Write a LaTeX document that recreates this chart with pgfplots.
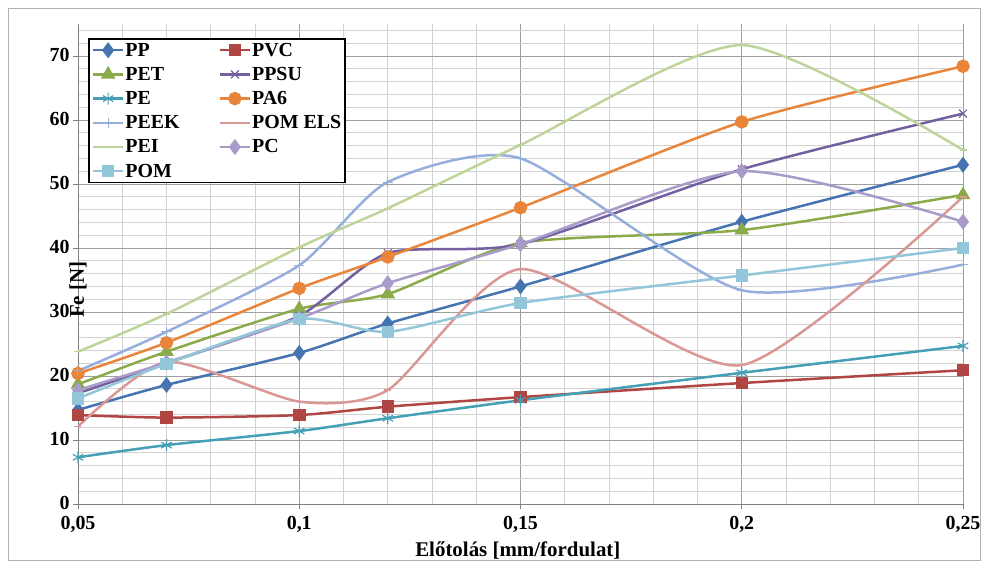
\documentclass[border=0pt]{standalone}
\usepackage{fontspec}
\setmainfont{Liberation Serif}
\usepackage{pgfplots}
\pgfplotsset{compat=1.18}
\definecolor{cPP}{HTML}{4674B0}
\definecolor{cPVC}{HTML}{B04643}
\definecolor{cPET}{HTML}{8BAA4A}
\definecolor{cPPSU}{HTML}{7460A0}
\definecolor{cPE}{HTML}{45A0B5}
\definecolor{cPA}{HTML}{E8853A}
\definecolor{cPEEK}{HTML}{95AEDC}
\definecolor{cELS}{HTML}{D99795}
\definecolor{cPEI}{HTML}{BDD59A}
\definecolor{cPC}{HTML}{A99BC9}
\definecolor{cPOM}{HTML}{93C6D8}
\begin{document}
\begin{tikzpicture}
\useasboundingbox (-78bp,-63bp) rectangle (907bp,504bp);
\draw[gray!60, line width=0.8bp] (-70bp,-56bp) rectangle (902bp,496bp);
\begin{axis}[
  at={(0,0)}, anchor=south west,
  scale only axis, width=885bp, height=480bp,
  xmin=0.05, xmax=0.25, ymin=0, ymax=75,
  axis lines=left, axis line style={gray, -, line width=0.8bp},
  xtick={0.05,0.1,0.15,0.2,0.25},
  xticklabels={{0,05},{0,1},{0,15},{0,2},{0,25}},
  ytick={0,10,20,30,40,50,60,70},
  yticklabels={0,10,20,30,40,50,60,70},
  minor xtick={0.06,0.07,0.08,0.09,0.11,0.12,0.13,0.14,0.16,0.17,0.18,0.19,0.21,0.22,0.23,0.24},
  minor ytick={2,4,6,8,12,14,16,18,22,24,26,28,32,34,36,38,42,44,46,48,52,54,56,58,62,64,66,68,72,74},
  grid=both,
  major grid style={gray!75, line width=0.6bp},
  minor grid style={gray!35, line width=0.6bp},
  tick align=outside, major tick length=5bp, minor tick length=0pt,
  tick style={gray, line width=0.6bp},
  ticklabel style={font=\fontsize{20}{20}\selectfont\bfseries},
  xticklabel style={yshift=-4bp},
  yticklabel style={yshift=1bp},
  xlabel={Előtolás [mm/fordulat]}, ylabel={Fe [N]},
  label style={font=\fontsize{21}{21}\selectfont\bfseries},
  xlabel style={at={(axis description cs:0.497,0)}, anchor=center, yshift=-47bp},
  ylabel style={at={(axis description cs:0,0.54)}, anchor=center, xshift=-45bp},
  every axis plot/.append style={line width=2.5bp, smooth, tension=0.4},
  legend columns=2,
  legend style={at={(10bp,466bp)}, anchor=north west, draw=black, line width=1.8bp,
    font=\fontsize{20}{20}\selectfont\bfseries, fill=white,
    inner xsep=3bp, inner ysep=3bp, row sep=7.5bp,
    nodes={inner sep=1bp},
    /tikz/every even column/.append style={column sep=38bp}},
  legend cell align=left,
  legend image code/.code={\draw[mark repeat=2,mark phase=2,#1] plot coordinates {(0bp,0bp) (15bp,0bp) (30bp,0bp)};},
]
\addplot[cPP, mark=diamond*, mark size=6bp] coordinates {(0.05,14.7)(0.07,18.6)(0.1,23.6)(0.12,28.2)(0.15,34.0)(0.2,44.1)(0.25,53.0)};
\addlegendentry{PP}
\addplot[cPVC, mark=square*, mark size=5bp] coordinates {(0.05,13.9)(0.07,13.5)(0.1,13.9)(0.12,15.2)(0.15,16.7)(0.2,18.9)(0.25,20.9)};
\addlegendentry{PVC}
\addplot[cPET, mark=triangle*, mark size=6bp] coordinates {(0.05,18.7)(0.07,23.8)(0.1,30.5)(0.12,32.8)(0.15,40.8)(0.2,42.8)(0.25,48.3)};
\addlegendentry{PET}
\addplot[cPPSU, mark=x, mark size=5.5bp, mark options={line width=1.2bp}] coordinates {(0.05,17.3)(0.07,22.0)(0.1,29.4)(0.12,39.2)(0.15,40.6)(0.2,52.3)(0.25,61.0)};
\addlegendentry{PPSU}
\addplot[cPE, mark=asterisk, mark size=6bp, mark options={line width=1.2bp}] coordinates {(0.05,7.3)(0.07,9.2)(0.1,11.4)(0.12,13.4)(0.15,16.2)(0.2,20.5)(0.25,24.7)};
\addlegendentry{PE}
\addplot[cPA, mark=*, mark size=5.5bp] coordinates {(0.05,20.4)(0.07,25.2)(0.1,33.7)(0.12,38.6)(0.15,46.3)(0.2,59.7)(0.25,68.4)};
\addlegendentry{PA6}
\addplot[cPEEK, mark=+, mark size=5bp, mark options={line width=1bp}] coordinates {(0.05,20.8)(0.07,26.9)(0.1,37.3)(0.12,50.3)(0.15,54.0)(0.2,33.4)(0.25,37.4)};
\addlegendentry{PEEK}
\addplot[cELS, mark=-, mark size=3.5bp, mark options={line width=1.5bp}] coordinates {(0.05,12.1)(0.07,22.2)(0.1,16.0)(0.12,17.8)(0.15,36.7)(0.2,21.7)(0.25,48.0)};
\addlegendentry{POM ELS}
\addplot[cPEI, mark=-, mark size=3.5bp, mark options={line width=1.5bp}] coordinates {(0.05,23.8)(0.07,29.7)(0.1,40.1)(0.12,46.2)(0.15,56.1)(0.2,71.7)(0.25,55.3)};
\addlegendentry{PEI}
\addplot[cPC, mark=diamond*, mark size=6bp] coordinates {(0.05,17.8)(0.07,22.1)(0.1,29.0)(0.12,34.5)(0.15,40.6)(0.2,52.0)(0.25,44.1)};
\addlegendentry{PC}
\addplot[cPOM, mark=square*, mark size=5bp] coordinates {(0.05,16.5)(0.07,21.9)(0.1,28.9)(0.12,26.9)(0.15,31.4)(0.2,35.7)(0.25,40.0)};
\addlegendentry{POM}
\end{axis}
\end{tikzpicture}
\end{document}
